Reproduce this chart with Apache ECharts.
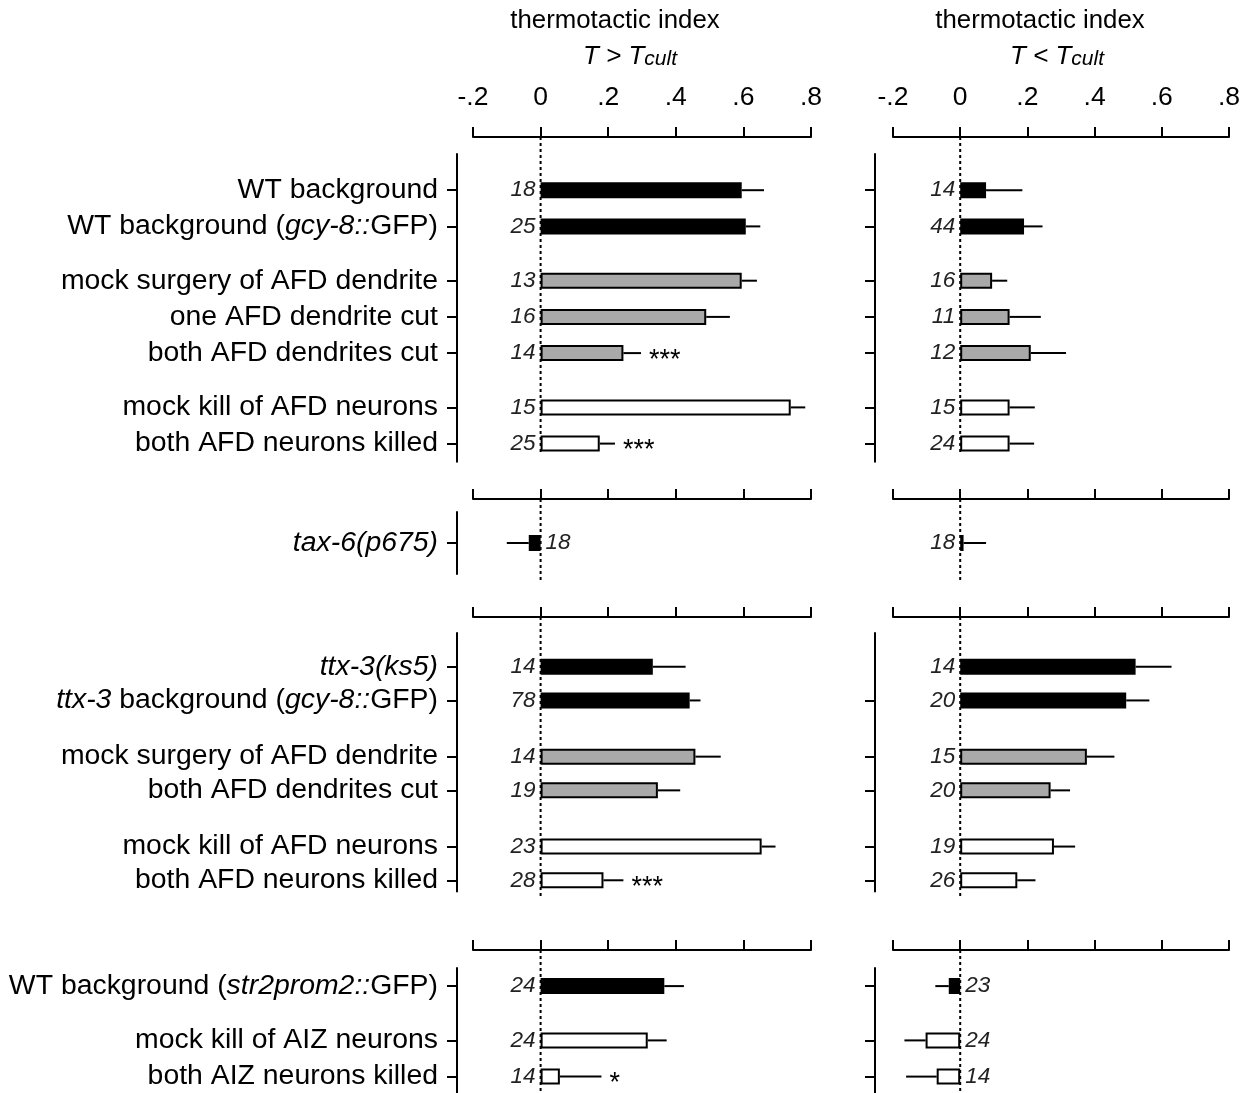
<!DOCTYPE html>
<html><head><meta charset="utf-8">
<script src="https://cdn.jsdelivr.net/npm/echarts@6/dist/echarts.min.js"></script>
<style>html,body{margin:0;padding:0;background:#fff}#c{width:1242px;height:1093px}</style>
</head><body><div id="c"></div>
<script>
// ---------------- data ----------------
const axisMin = -0.2, axisMax = 0.8, axisStep = 0.2;
const panelTitle = 'thermotactic index';
const panelConditions = [['T > T', 'cult'], ['T < T', 'cult']];

// group 1 (AFD, wild type)
const g1Labels = ['WT background', 'WT background (_gcy-8::_GFP)', 'mock surgery of AFD dendrite',
  'one AFD dendrite cut', 'both AFD dendrites cut', 'mock kill of AFD neurons', 'both AFD neurons killed'];
const g1Subgroups = [2, 3, 2];
const g1Fill = ['black', 'black', 'gray', 'gray', 'gray', 'white', 'white'];
const g1HotMean = [0.595, 0.607, 0.595, 0.49, 0.245, 0.74, 0.175];
const g1HotSem = [0.066, 0.043, 0.045, 0.07, 0.052, 0.043, 0.045];
const g1HotN = [18, 25, 13, 16, 14, 15, 25];
const g1HotSig = ['', '', '', '', '***', '', '***'];
const g1ColdMean = [0.077, 0.19, 0.095, 0.147, 0.21, 0.147, 0.147];
const g1ColdSem = [0.108, 0.055, 0.045, 0.093, 0.105, 0.075, 0.073];
const g1ColdN = [14, 44, 16, 11, 12, 15, 24];
const g1ColdSig = ['', '', '', '', '', '', ''];

// group 2 (tax-6)
const g2Labels = ['_tax-6(p675)_'];
const g2Subgroups = [1];
const g2Fill = ['black'];
const g2HotMean = [-0.035];
const g2HotSem = [0.065];
const g2HotN = [18];
const g2HotSig = [''];
const g2ColdMean = [0.01];
const g2ColdSem = [0.067];
const g2ColdN = [18];
const g2ColdSig = [''];

// group 3 (ttx-3)
const g3Labels = ['_ttx-3(ks5)_', '_ttx-3_ background (_gcy-8::_GFP)', 'mock surgery of AFD dendrite',
  'both AFD dendrites cut', 'mock kill of AFD neurons', 'both AFD neurons killed'];
const g3Subgroups = [2, 2, 2];
const g3Fill = ['black', 'black', 'gray', 'gray', 'white', 'white'];
const g3HotMean = [0.332, 0.441, 0.458, 0.347, 0.654, 0.186];
const g3HotSem = [0.097, 0.032, 0.075, 0.066, 0.041, 0.059];
const g3HotN = [14, 78, 14, 19, 23, 28];
const g3HotSig = ['', '', '', '', '', '***'];
const g3ColdMean = [0.522, 0.494, 0.377, 0.269, 0.279, 0.17];
const g3ColdSem = [0.107, 0.069, 0.082, 0.058, 0.063, 0.054];
const g3ColdN = [14, 20, 15, 20, 19, 26];
const g3ColdSig = ['', '', '', '', '', ''];

// group 4 (AIZ)
const g4Labels = ['WT background (_str2prom2::_GFP)', 'mock kill of AIZ neurons', 'both AIZ neurons killed'];
const g4Subgroups = [1, 2];
const g4Fill = ['black', 'white', 'white'];
const g4HotMean = [0.366, 0.317, 0.057];
const g4HotSem = [0.058, 0.056, 0.123];
const g4HotN = [24, 24, 14];
const g4HotSig = ['', '', '*'];
const g4ColdMean = [-0.034, -0.103, -0.07];
const g4ColdSem = [0.04, 0.063, 0.091];
const g4ColdN = [23, 24, 14];
const g4ColdSig = ['', '', ''];

// ---------------- layout / style ----------------
const FONT = '"Liberation Sans", Arial, Helvetica, sans-serif';
const fillColors = { black: '#000000', gray: '#a9a9a9', white: '#ffffff' };
const groupLayout = [
  { axisY: 137, top: 154, slot: 18.1, lead: 2, rowStep: 2, gapStep: 3, trail: 1, zeroBottom: 453 },
  { axisY: 499, top: 512, slot: 15.5, lead: 2, rowStep: 2, gapStep: 3, trail: 2, zeroBottom: 582 },
  { axisY: 617, top: 633, slot: 11.24, lead: 3, rowStep: 3, gapStep: 5, trail: 1, zeroBottom: 898 },
  { axisY: 950, top: 968, slot: 18.1, lead: 1, rowStep: 2, gapStep: 3, trail: 1, zeroBottom: 1093 }
];
const sideLayout = [
  { left: 473, width: 338, yOffset: 16, titleX: 615, condX: 630 },
  { left: 893, width: 336, yOffset: 18, titleX: 1040, condX: 1057 }
];

const groups = [
  { labels: g1Labels, sub: g1Subgroups, fill: g1Fill,
    sides: [[g1HotMean, g1HotSem, g1HotN, g1HotSig], [g1ColdMean, g1ColdSem, g1ColdN, g1ColdSig]] },
  { labels: g2Labels, sub: g2Subgroups, fill: g2Fill,
    sides: [[g2HotMean, g2HotSem, g2HotN, g2HotSig], [g2ColdMean, g2ColdSem, g2ColdN, g2ColdSig]] },
  { labels: g3Labels, sub: g3Subgroups, fill: g3Fill,
    sides: [[g3HotMean, g3HotSem, g3HotN, g3HotSig], [g3ColdMean, g3ColdSem, g3ColdN, g3ColdSig]] },
  { labels: g4Labels, sub: g4Subgroups, fill: g4Fill,
    sides: [[g4HotMean, g4HotSem, g4HotN, g4HotSig], [g4ColdMean, g4ColdSem, g4ColdN, g4ColdSig]] }
];

const GAP = '#gap';
const isRow = v => typeof v === 'string' && v.indexOf(GAP) !== 0;

function buildCats(labels, subgroups, L) {
  const cats = []; let k = 0;
  const blank = () => cats.push(GAP + (k++));
  for (let i = 0; i < L.lead; i++) blank();
  let idx = 0;
  subgroups.forEach(size => {
    for (let r = 0; r < size; r++) {
      if (idx > 0) {
        const step = r === 0 ? L.gapStep : L.rowStep;
        for (let j = 0; j < step - 1; j++) blank();
      }
      cats.push(labels[idx]); idx++;
    }
  });
  for (let i = 0; i < L.trail; i++) blank();
  return cats;
}

function richify(s) {
  return s.split('_').map((p, i) => p === '' ? '' : (i % 2 ? '{i|' + p + '}' : '{n|' + p + '}')).join('');
}
function fmtTick(v) {
  const r = Math.round(v * 10);
  if (r === 0) return '0';
  return (r < 0 ? '-' : '') + '.' + Math.abs(r);
}

const LABEL_SIZE = 28.4;
const grids = [], xAxes = [], yAxes = [], series = [], panels = [];
groups.forEach((G, gi) => {
  const L = groupLayout[gi];
  const cats = buildCats(G.labels, G.sub, L);
  const height = L.slot * (cats.length - 1);
  [0, 1].forEach(side => {
    const S = sideLayout[side];
    const pi = grids.length;
    const hideAxisLine = (gi === 1 && side === 1);
    const hideTickRows = (gi === 2 && side === 1) ? [G.labels[0]] : [];
    grids.push({ left: S.left, top: L.top, width: S.width, height: height, containLabel: false, outerBoundsMode: 'none' });
    xAxes.push({
      gridIndex: pi, type: 'value', position: 'top', min: axisMin, max: axisMax, interval: axisStep,
      offset: L.top - L.axisY,
      axisLine: { show: true, onZero: false, lineStyle: { color: '#000', width: 2 } },
      axisTick: { show: true, length: 10, lineStyle: { color: '#000', width: 2 } },
      axisLabel: { show: gi === 0, margin: 26, fontSize: 26.5, fontFamily: FONT, color: '#000',
        formatter: fmtTick, showMinLabel: true, showMaxLabel: true },
      splitLine: { show: false }
    });
    yAxes.push({
      gridIndex: pi, type: 'category', data: cats, inverse: true, boundaryGap: false, offset: S.yOffset,
      axisLine: { show: !hideAxisLine, onZero: false, lineStyle: { color: '#000', width: 2 } },
      axisTick: { show: !hideAxisLine, length: 10, lineStyle: { color: '#000', width: 2 },
        interval: (i, v) => isRow(v) && hideTickRows.indexOf(v) < 0 },
      axisLabel: { show: side === 0, interval: (i, v) => isRow(v), margin: 19, fontSize: LABEL_SIZE, fontFamily: FONT,
        color: '#000', formatter: v => isRow(v) ? richify(v) : '',
        rich: { n: { fontSize: LABEL_SIZE, fontFamily: FONT, color: '#000' },
                i: { fontSize: LABEL_SIZE, fontFamily: FONT, color: '#000', fontStyle: 'italic' } } },
      splitLine: { show: false }
    });
    const [mean, sem, n, sig] = G.sides[side];
    series.push({
      type: 'bar', xAxisIndex: pi, yAxisIndex: pi, barWidth: 16, z: 3,
      label: { show: true, distance: 5, fontSize: 22.5, fontStyle: 'italic', fontFamily: FONT, color: '#222' },
      data: G.labels.map((lab, i) => ({
        value: [mean[i], lab],
        itemStyle: { color: fillColors[G.fill[i]], borderColor: '#000', borderWidth: 2 },
        label: { position: mean[i] >= 0 ? 'left' : 'right', formatter: String(n[i]) }
      }))
    });
    series.push({
      type: 'custom', xAxisIndex: pi, yAxisIndex: pi, z: 2,
      encode: { x: [0, 1], y: 2 },
      data: G.labels.map((lab, i) => [mean[i], mean[i] + (mean[i] >= 0 ? 1 : -1) * sem[i], lab]),
      renderItem: (params, api) => {
        const a = api.coord([api.value(0), api.value(2)]);
        const b = api.coord([api.value(1), api.value(2)]);
        const children = [{ type: 'line', shape: { x1: a[0], y1: a[1], x2: b[0], y2: b[1] },
          style: { stroke: '#000', lineWidth: 2 } }];
        const s = sig[params.dataIndex];
        if (s) children.push({ type: 'text', x: b[0] + 8, y: a[1] + 7,
          style: { text: s, fill: '#000', fontSize: 27, fontFamily: FONT, textAlign: 'left', textVerticalAlign: 'middle' } });
        return { type: 'group', children };
      }
    });
    panels.push({ pi, axisY: L.axisY, zeroBottom: L.zeroBottom });
  });
});

const chart = echarts.init(document.getElementById('c'), null, { renderer: 'canvas' });
chart.setOption({
  animation: false,
  backgroundColor: '#fff',
  grid: grids, xAxis: xAxes, yAxis: yAxes, series: series
});

const graphics = [];
sideLayout.forEach((S, side) => {
  graphics.push({ type: 'text', x: S.titleX, y: 21, z: 10,
    style: { text: panelTitle, fill: '#000', fontSize: 25.8, fontFamily: FONT, textAlign: 'center', textVerticalAlign: 'middle' } });
  graphics.push({ type: 'text', x: S.condX, y: 57, z: 10,
    style: { text: '{a|' + panelConditions[side][0] + '}{b|' + panelConditions[side][1] + '}',
      textAlign: 'center', textVerticalAlign: 'middle', fill: '#000',
      rich: { a: { fontSize: 26, fontStyle: 'italic', fontFamily: FONT, fill: '#000', verticalAlign: 'bottom' },
              b: { fontSize: 21, fontStyle: 'italic', fontFamily: FONT, fill: '#000', verticalAlign: 'bottom' } } } });
});
panels.forEach(p => {
  const x = chart.convertToPixel({ xAxisIndex: p.pi }, 0);
  graphics.push({ type: 'line', z: 1, silent: true,
    shape: { x1: x, y1: p.axisY, x2: x, y2: p.zeroBottom },
    style: { stroke: '#000', lineWidth: 2, lineDash: [3, 3] } });
});
chart.setOption({ graphic: graphics });
</script>
</body></html>
